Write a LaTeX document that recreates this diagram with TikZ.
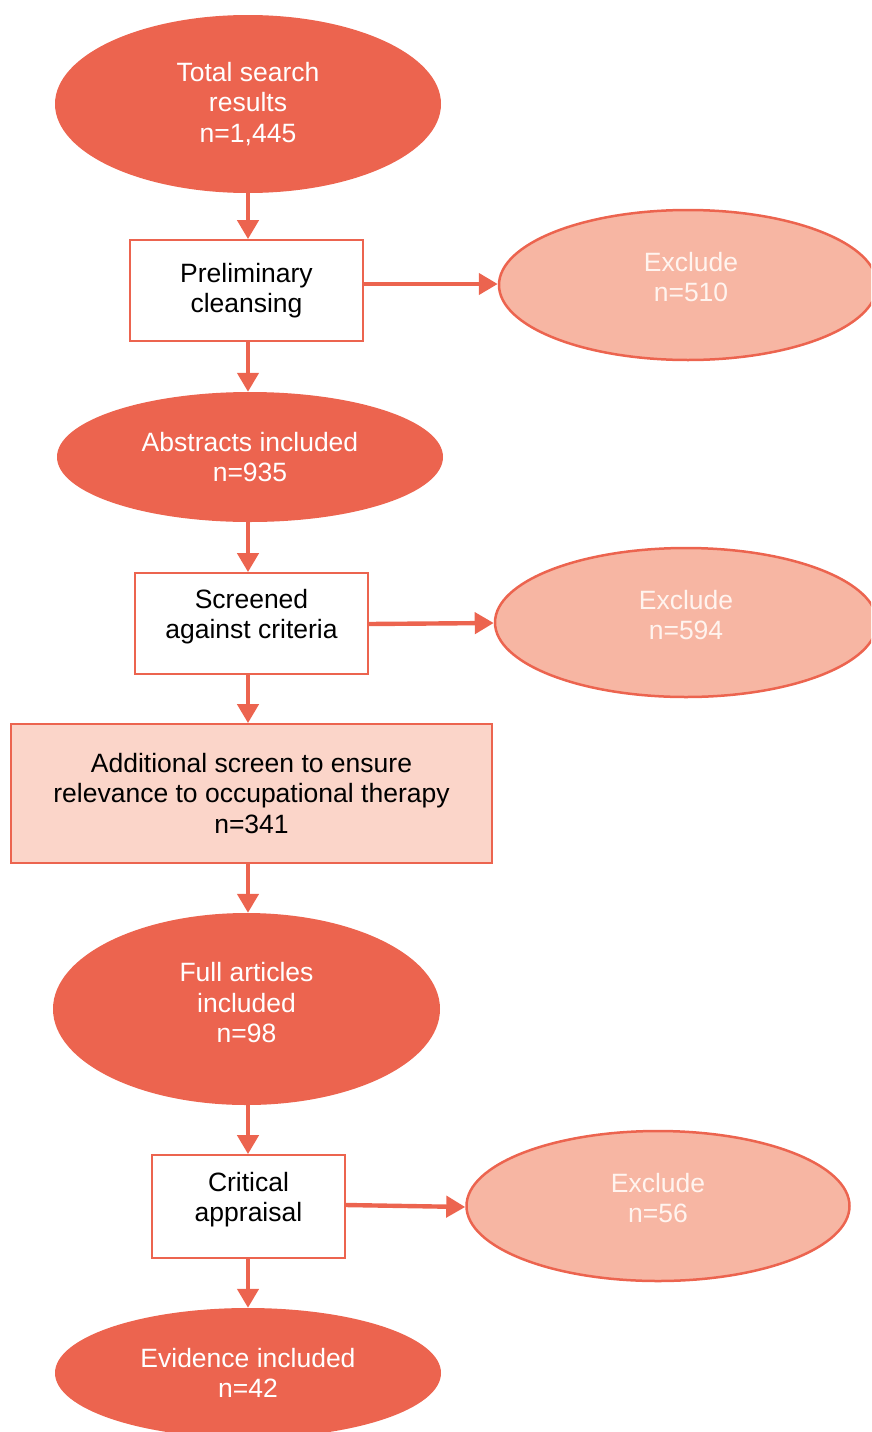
\documentclass[tikz,border=0pt]{standalone}
\usepackage{fontspec}
\setmainfont{Liberation Sans}
\usetikzlibrary{shapes.geometric,arrows.meta}
\definecolor{dark}{HTML}{EC644F}
\definecolor{lightex}{HTML}{F7B6A3}
\definecolor{lightbox}{HTML}{FBD5C9}
\definecolor{extext}{HTML}{FFF4EF}
\tikzset{
  every node/.style={font=\fontsize{26.5}{30.5}\selectfont, align=center, inner sep=0pt},
  darkell/.style={ellipse, fill=dark, text=white},
  exell/.style={ellipse, draw=dark, line width=2.5pt, fill=lightex},
  extxt/.style={text=extext},
  stepbox/.style={rectangle, draw=dark, line width=1.8pt, fill=white, text=black},
  arr/.style={draw=dark, line width=4.4pt, -{Triangle[width=21pt,length=19pt]}},
}
\begin{document}
\begin{tikzpicture}[x=1pt,y=-1pt]
\useasboundingbox (0,0) rectangle (871,1432);
\clip (0,0) rectangle (871,1432);
% main column
\node[darkell, minimum width=386pt, minimum height=178pt] (e1) at (248,104) {Total search\\results\\n=1,445};
\node[stepbox, minimum width=233pt, minimum height=101pt] (b1) at (246.5,290.5) {Preliminary\\cleansing};
\node[darkell, minimum width=386pt, minimum height=130pt] (e2) at (250,457) {Abstracts included\\n=935};
\node[stepbox, minimum width=233pt, minimum height=101pt] (b2) at (251.5,623.5) {};
\node[text=black] (b2t) at (251.5,616.5) {Screened\\against criteria};
\node[stepbox, fill=lightbox, minimum width=481pt, minimum height=139pt] (b3) at (251.5,793.5) {Additional screen to ensure\\relevance to occupational therapy\\n=341};
\node[darkell, minimum width=387pt, minimum height=192pt] (e3) at (246.5,1009) {};
\node[text=white] (e3t) at (246.5,1003) {Full articles\\included\\n=98};
\node[stepbox, minimum width=193pt, minimum height=103pt] (b4) at (248.5,1206.5) {};
\node[text=black] (b4t) at (248.5,1199.5) {Critical\\appraisal};
\node[darkell, minimum width=386pt, minimum height=130pt] (e4) at (248,1373) {Evidence included\\n=42};
% exclude ellipses
\node[exell, minimum width=378pt, minimum height=150pt] (x1) at (688,285) {};
\node[extxt] (x1t) at (691,277) {Exclude\\n=510};
\node[exell, minimum width=382pt, minimum height=149pt] (x2) at (686,622.5) {};
\node[extxt] (x2t) at (686,615) {Exclude\\n=594};
\node[exell, minimum width=383pt, minimum height=150pt] (x3) at (658,1206) {};
\node[extxt] (x3t) at (658,1198) {Exclude\\n=56};
% connectors
\draw[arr] (e1.south -| 248,0) -- (b1.north -| 248,0);
\draw[arr] (b1.south -| 248,0) -- (e2.north -| 248,0);
\draw[arr] (e2.south -| 248,0) -- (b2.north -| 248,0);
\draw[arr] (b2.south -| 248,0) -- (b3.north -| 248,0);
\draw[arr] (b3.south -| 248,0) -- (e3.north -| 248,0);
\draw[arr] (e3.south -| 248,0) -- (b4.north -| 248,0);
\draw[arr] (b4.south -| 248,0) -- (e4.north -| 248,0);
\draw[arr] (b1.east |- 0,284) -- (x1.west |- 0,284);
\draw[arr] (b2.east |- 0,624) -- (x2.west |- 0,623);
\draw[arr] (b4.east |- 0,1205) -- (x3.west |- 0,1207);
\end{tikzpicture}
\end{document}
